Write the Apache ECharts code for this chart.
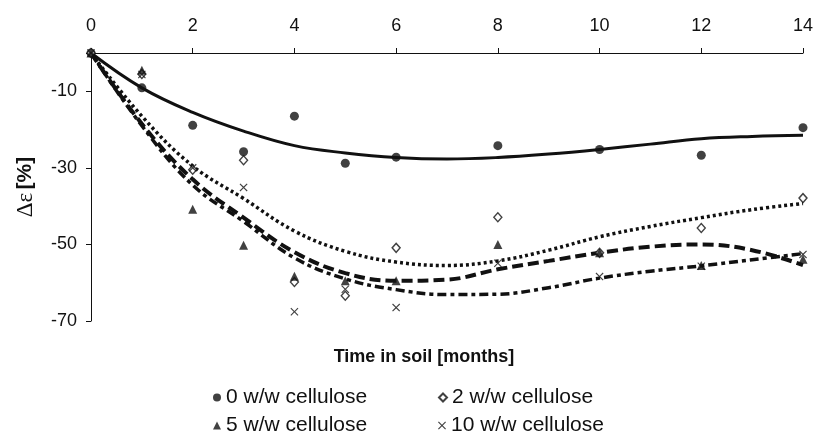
<!DOCTYPE html>
<html>
<head>
<meta charset="utf-8">
<script src="https://cdn.jsdelivr.net/npm/echarts@6/dist/echarts.min.js"></script>
<style>
  html, body { margin: 0; padding: 0; background: #fff; }
  #chart { width: 816px; height: 445px; }
</style>
</head>
<body>
<div id="chart"></div>
<script>
// Measured elongation change (%) at each sampling month
const months = [0, 1, 2, 3, 4, 5, 6, 8, 10, 12, 14];
const cellulose0  = [0, -9.1, -18.9, -25.8, -16.5, -28.8, -27.2, -24.2, -25.2, -26.7, -19.5];
const cellulose2  = [0, -5.5, -30.5, -28.0, -59.8, -63.4, -50.9, -42.9, -52.2, -45.7, -37.9];
const cellulose5  = [0, -4.5, -40.8, -50.2, -58.3, -59.5, -59.5, -50.0, -52.2, -55.5, -53.9];
const cellulose10 = [0, -5.6, -30.0, -35.1, -67.6, -61.7, -66.5, -54.9, -58.4, -55.7, -52.6];

// Trend curves, read month by month
const trendMonths = [0, 1, 2, 3, 4, 5, 6, 7, 8, 9, 10, 11, 12, 13, 14];
const trend0  = [0, -9.1, -15.5, -20.4, -24.2, -26.1, -27.3, -27.7, -27.3, -26.4, -25.2, -23.8, -22.4, -21.8, -21.5];
const trend2  = [0, -16.5, -29.5, -38.0, -46.5, -51.8, -54.6, -55.5, -54.3, -51.5, -48.0, -45.3, -43.0, -40.9, -39.3];
const trend5  = [0, -18.5, -33.0, -43.0, -52.0, -57.5, -59.5, -59.2, -56.5, -54.3, -52.2, -50.6, -50.0, -51.5, -55.4];
const trend10 = [0, -19.0, -34.5, -44.0, -53.5, -59.0, -61.8, -63.1, -63.0, -61.3, -58.8, -57.0, -55.6, -54.0, -52.4];

const seriesNames = ['0 w/w cellulose', '2 w/w cellulose', '5 w/w cellulose', '10 w/w cellulose'];

const FONT = '"Liberation Sans", Arial, Helvetica, sans-serif';
const SERIF = '"Liberation Serif", "DejaVu Serif", serif';
const INK = '#111';
const crossPath = 'path://M0,1L1,0L5,4L9,0L10,1L6,5L10,9L9,10L5,6L1,10L0,9L4,5Z';

const pairs = (xs, ys) => xs.map((x, i) => [x, ys[i]]);

function trendLine(name, values, type, width) {
  return {
    name: name,
    type: 'line',
    data: pairs(trendMonths, values),
    smooth: 0.4,
    showSymbol: false,
    silent: true,
    z: 2,
    lineStyle: { color: INK, width: width, type: type, cap: 'butt' }
  };
}

function markers(name, values, symbol, size, filled) {
  return {
    name: name,
    type: 'scatter',
    data: pairs(months, values),
    symbol: symbol,
    symbolSize: size,
    z: 5,
    itemStyle: filled
      ? { color: INK }
      : { color: '#fff', borderColor: INK, borderWidth: 1.4 }
  };
}

function legendItem(name, left, top) {
  return {
    data: [name],
    left: left,
    top: top,
    itemWidth: 8,
    itemHeight: 8,
    itemGap: 0,
    selectedMode: false,
    textStyle: { fontFamily: FONT, fontSize: 21, color: INK }
  };
}

const chart = echarts.init(document.getElementById('chart'), null, { renderer: 'canvas' });

chart.setOption({
  animation: false,
  backgroundColor: '#fff',
  grid: { left: 91, top: 53, right: 11, bottom: 124, containLabel: false },
  xAxis: {
    type: 'value',
    position: 'top',
    min: 0,
    max: 14,
    interval: 2,
    axisLine: { onZero: false, lineStyle: { color: INK, width: 1 } },
    axisTick: { show: true, length: 5, lineStyle: { color: INK } },
    axisLabel: { margin: 18, fontSize: 18, color: INK, fontFamily: FONT },
    splitLine: { show: false }
  },
  yAxis: {
    type: 'value',
    min: -70,
    max: 0,
    interval: 20,
    axisLine: { show: true, onZero: false, lineStyle: { color: INK, width: 1 } },
    axisTick: { show: true, length: 5, lineStyle: { color: INK } },
    axisLabel: {
      margin: 14, fontSize: 18, color: INK, fontFamily: FONT,
      formatter: v => (v === 0 ? '' : String(v))
    },
    splitLine: { show: false },
    name: '{a|Δε} {b|[%]}',
    nameLocation: 'middle',
    nameRotate: 90,
    nameGap: 54,
    nameTextStyle: {
      rich: {
        a: { fontFamily: SERIF, fontSize: 23, color: INK },
        b: { fontFamily: FONT, fontSize: 21, fontWeight: 'bold', color: INK }
      }
    }
  },
  legend: [
    legendItem(seriesNames[0], 208, 382),
    legendItem(seriesNames[1], 433, 382),
    legendItem(seriesNames[2], 208, 410),
    legendItem(seriesNames[3], 433, 410)
  ],
  graphic: [{
    type: 'text',
    style: {
      text: 'Time in soil [months]',
      x: 424,
      y: 357,
      align: 'center',
      verticalAlign: 'middle',
      fontFamily: FONT,
      fontSize: 18,
      fontWeight: 'bold',
      fill: INK
    }
  }],
  series: [
    trendLine('trend 0', trend0, 'solid', 3),
    trendLine('trend 2', trend2, [3, 3], 3.5),
    trendLine('trend 5', trend5, [11, 5], 4),
    trendLine('trend 10', trend10, [9, 4, 4, 4], 3.5),
    markers(seriesNames[0], cellulose0, 'circle', 9, true),
    markers(seriesNames[1], cellulose2, 'diamond', [8, 9], false),
    markers(seriesNames[2], cellulose5, 'triangle', 9, true),
    markers(seriesNames[3], cellulose10, crossPath, 8, true)
  ]
});
</script>
</body>
</html>
